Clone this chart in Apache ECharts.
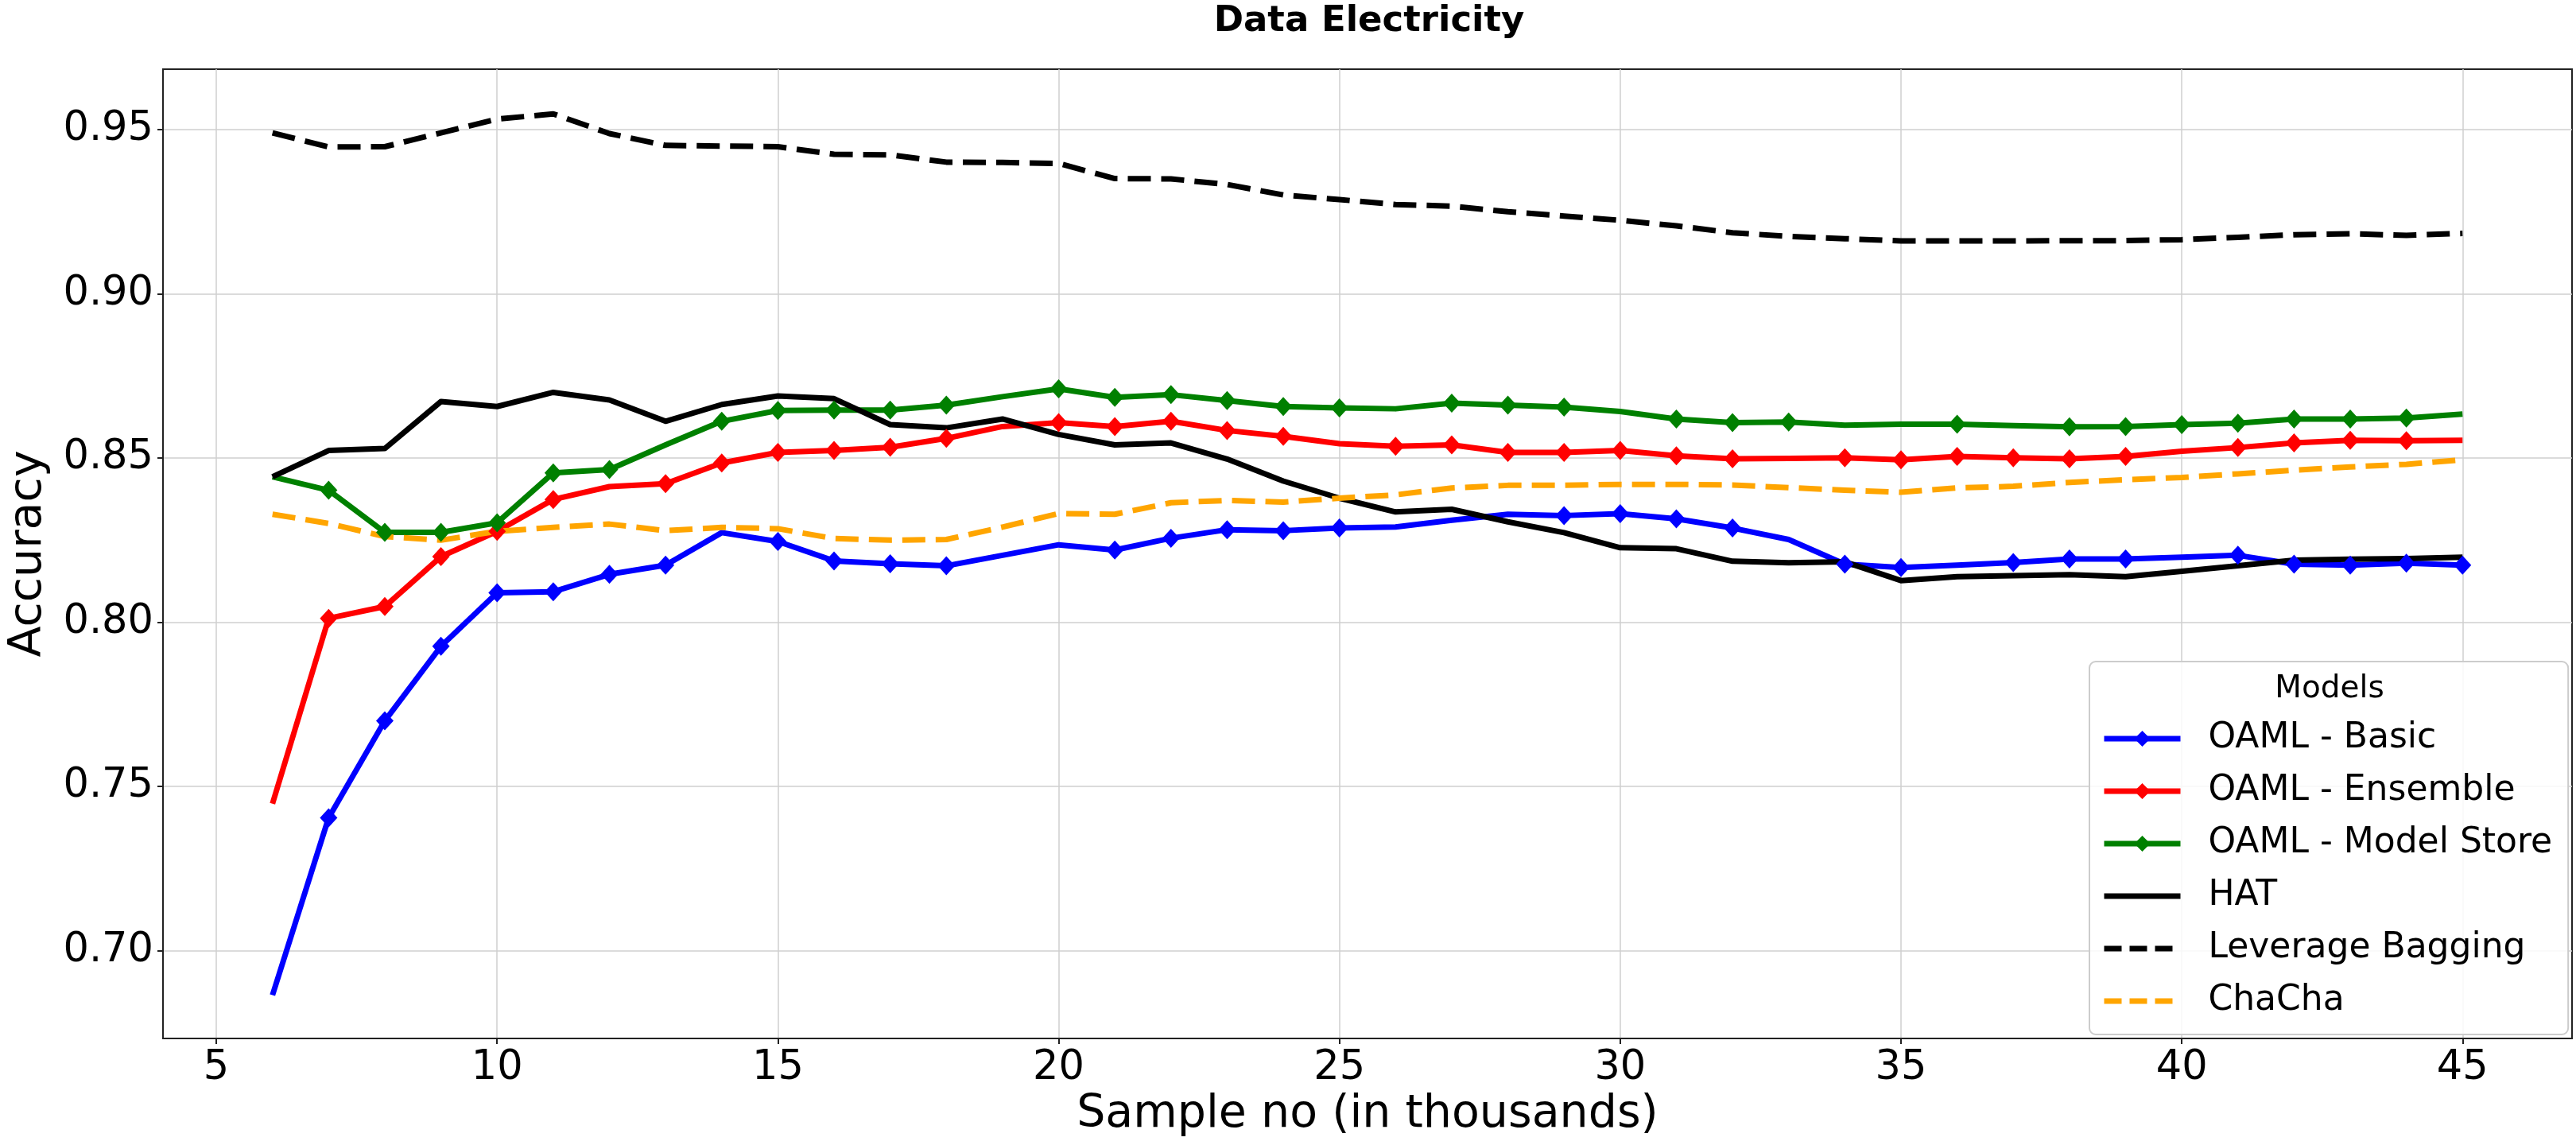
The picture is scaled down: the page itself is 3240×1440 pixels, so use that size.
<!DOCTYPE html>
<html>
<head>
<meta charset="utf-8">
<script src="https://cdn.jsdelivr.net/npm/echarts@6/dist/echarts.min.js"></script>
<style>
html,body{margin:0;padding:0;background:#ffffff;}
#chart{width:3240px;height:1440px;}
</style>
</head>
<body>
<div id="chart"></div>
<script>
// ---- data ----
const sampleK = [6,7,8,9,10,11,12,13,14,15,16,17,18,19,20,21,22,23,24,25,26,27,28,29,30,31,32,33,34,35,36,37,38,39,40,41,42,43,44,45];

const oamlBasic = [0.6865,0.7405,0.7700,0.7927,0.8090,0.8093,0.8146,0.8174,0.8273,0.8246,0.8187,0.8178,0.8172,0.8204,0.8236,0.8220,0.8256,0.8282,0.8279,0.8287,0.8290,0.8311,0.8329,0.8325,0.8331,0.8315,0.8287,0.8252,0.8177,0.8167,0.8174,0.8182,0.8193,0.8193,0.8198,0.8204,0.8177,0.8174,0.8180,0.8174];

const oamlEnsemble = [0.7448,0.8012,0.8048,0.8200,0.8277,0.8374,0.8413,0.8422,0.8485,0.8517,0.8523,0.8533,0.8560,0.8596,0.8608,0.8596,0.8612,0.8584,0.8566,0.8544,0.8536,0.8540,0.8517,0.8517,0.8523,0.8507,0.8498,0.8499,0.8501,0.8495,0.8505,0.8501,0.8498,0.8505,0.8521,0.8532,0.8546,0.8554,0.8553,0.8554];

const oamlModelStore = [0.8443,0.8402,0.8274,0.8274,0.8303,0.8455,0.8465,0.8540,0.8612,0.8645,0.8646,0.8646,0.8661,0.8687,0.8711,0.8685,0.8693,0.8675,0.8657,0.8653,0.8650,0.8667,0.8661,0.8655,0.8642,0.8619,0.8608,0.8610,0.8600,0.8603,0.8603,0.8599,0.8595,0.8596,0.8602,0.8606,0.8619,0.8619,0.8622,0.8634];

const hat = [0.8443,0.8523,0.8529,0.8672,0.8657,0.8700,0.8677,0.8612,0.8663,0.8689,0.8681,0.8602,0.8592,0.8619,0.8572,0.8540,0.8546,0.8497,0.8430,0.8378,0.8336,0.8344,0.8306,0.8273,0.8227,0.8224,0.8186,0.8181,0.8184,0.8127,0.8139,0.8142,0.8145,0.8139,0.8155,0.8172,0.8189,0.8192,0.8194,0.8198];

const leverageBagging = [0.9490,0.9447,0.9448,0.9490,0.9532,0.9548,0.9488,0.9452,0.9450,0.9448,0.9425,0.9423,0.9401,0.9400,0.9397,0.9351,0.9350,0.9333,0.9301,0.9287,0.9272,0.9267,0.9250,0.9237,0.9224,0.9207,0.9186,0.9175,0.9168,0.9161,0.9161,0.9161,0.9162,0.9162,0.9165,0.9172,0.9180,0.9183,0.9178,0.9184];

const chaCha = [0.8329,0.8301,0.8261,0.8250,0.8277,0.8289,0.8299,0.8279,0.8289,0.8285,0.8255,0.8250,0.8252,0.8290,0.8331,0.8329,0.8364,0.8371,0.8366,0.8378,0.8388,0.8409,0.8417,0.8417,0.8420,0.8420,0.8418,0.8410,0.8402,0.8396,0.8409,0.8414,0.8426,0.8434,0.8441,0.8452,0.8463,0.8473,0.8481,0.8495];

// samples (x) at which the reference shows no marker on the line
const basicUnmarked = [6,14,19,20,26,27,28,33,36,40];
const ensembleUnmarked = [6,12,19,25,33,40,45];
const modelStoreUnmarked = [6,13,19,26,30,34,35,37,45];

const xTicks = [5,10,15,20,25,30,35,40,45];
const yTicks = [0.70,0.75,0.80,0.85,0.90,0.95];

const titleText = 'Data Electricity';
const xName = 'Sample no (in thousands)';
const yName = 'Accuracy';
const legendTitle = 'Models';

// ---- chart ----
const FONT = '"DejaVu Sans", sans-serif';
const chart = echarts.init(document.getElementById('chart'), null, {renderer: 'canvas'});

function pairs(vals) { return sampleK.map((x, i) => [x, vals[i]]); }
function markerSize(skip) {
  return function (v, p) { return skip.indexOf(sampleK[p.dataIndex]) >= 0 ? 0 : [22, 24]; };
}

function lineSeries(name, vals, color, opts) {
  return {
    name: name,
    type: 'line',
    data: pairs(vals),
    color: color,
    lineStyle: {color: color, width: 7, type: opts.dash ? [29, 13] : 'solid', cap: 'butt', join: 'round'},
    itemStyle: {color: color},
    symbol: opts.skip ? 'diamond' : 'none',
    showSymbol: !!opts.skip,
    symbolSize: opts.skip ? markerSize(opts.skip) : 0,
    emphasis: {disabled: true},
    animation: false,
    z: 3
  };
}

const option = {
  backgroundColor: '#ffffff',
  animation: false,
  title: {
    text: titleText,
    left: 1717,
    textAlign: 'center',
    top: 0,
    textStyle: {fontFamily: FONT, fontSize: 45, fontWeight: 'bold', color: '#000'}
  },
  grid: {
    left: 198, right: 5, top: 87, bottom: 134,
    show: true, borderColor: '#222222', borderWidth: 2, backgroundColor: 'transparent'
  },
  xAxis: {
    type: 'value', min: 4.05, max: 46.95,
    name: xName, nameLocation: 'middle', nameGap: 66,
    nameTextStyle: {fontFamily: FONT, fontSize: 57, color: '#000'},
    axisLine: {show: true, onZero: false, lineStyle: {color: '#222222', width: 2}},
    axisTick: {show: true, inside: false, length: 7, customValues: xTicks, lineStyle: {color: '#222222', width: 2}},
    axisLabel: {customValues: xTicks, fontFamily: FONT, fontSize: 51, color: '#000', margin: 12},
    splitLine: {show: true, lineStyle: {color: '#cfcfcf', width: 1.5}}
  },
  yAxis: {
    type: 'value', min: 0.6733, max: 0.9684,
    name: yName, nameLocation: 'middle', nameGap: 140, nameRotate: 90,
    nameTextStyle: {fontFamily: FONT, fontSize: 57, color: '#000'},
    axisLine: {show: true, onZero: false, lineStyle: {color: '#222222', width: 2}},
    axisTick: {show: true, inside: false, length: 7, customValues: yTicks, lineStyle: {color: '#222222', width: 2}},
    axisLabel: {customValues: yTicks, fontFamily: FONT, fontSize: 51, color: '#000', margin: 12,
      formatter: function (v) { return Number(v).toFixed(2); }},
    splitLine: {show: true, lineStyle: {color: '#cfcfcf', width: 1.5}}
  },
  legend: {
    orient: 'vertical',
    left: 2628, top: 832,
    itemWidth: 96, itemHeight: 25, itemGap: 16,
    padding: [72, 20, 17, 15],
    backgroundColor: 'rgba(255,255,255,0.85)',
    borderColor: '#cccccc', borderWidth: 2, borderRadius: 8,
    selectedMode: false,
    lineStyle: {width: 7},
    textStyle: {fontFamily: FONT, fontSize: 44, color: '#000', lineHeight: 50, padding: [0, 0, 0, 30]},
    data: [
      {name: 'OAML - Basic'},
      {name: 'OAML - Ensemble'},
      {name: 'OAML - Model Store'},
      {name: 'HAT', itemStyle: {opacity: 0}},
      {name: 'Leverage Bagging', itemStyle: {opacity: 0}, lineStyle: {type: [22, 10], width: 7}},
      {name: 'ChaCha', itemStyle: {opacity: 0}, lineStyle: {type: [22, 10], width: 7}}
    ],
    z: 10
  },
  graphic: [{
    type: 'text', x: 2930, y: 867, z: 100,
    style: {text: legendTitle, font: '39px "DejaVu Sans", sans-serif', fill: '#000',
      textAlign: 'center', textVerticalAlign: 'middle'}
  }],
  series: [
    lineSeries('OAML - Basic', oamlBasic, '#0000ff', {skip: basicUnmarked}),
    lineSeries('OAML - Ensemble', oamlEnsemble, '#ff0000', {skip: ensembleUnmarked}),
    lineSeries('OAML - Model Store', oamlModelStore, '#008000', {skip: modelStoreUnmarked}),
    lineSeries('HAT', hat, '#000000', {}),
    lineSeries('Leverage Bagging', leverageBagging, '#000000', {dash: true}),
    lineSeries('ChaCha', chaCha, '#ffa500', {dash: true})
  ]
};
chart.setOption(option);
</script>
</body>
</html>
